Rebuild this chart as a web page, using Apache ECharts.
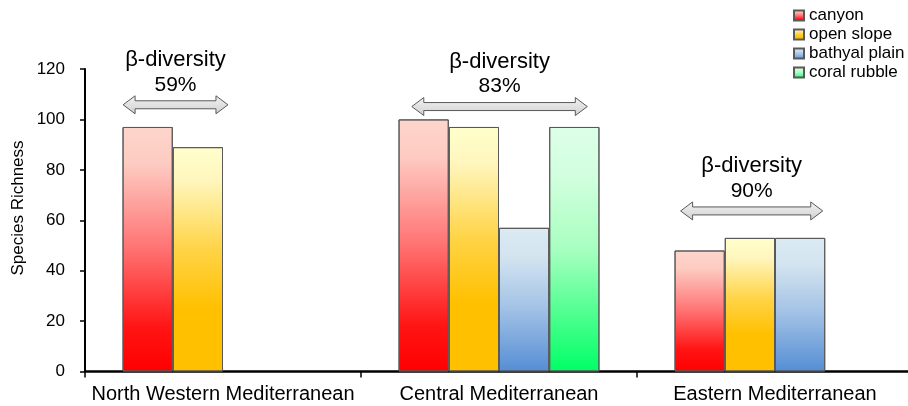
<!DOCTYPE html>
<html>
<head>
<meta charset="utf-8">
<script src="https://cdn.jsdelivr.net/npm/echarts@6/dist/echarts.min.js"></script>
<style>html,body{margin:0;padding:0;background:#fff}#c{width:908px;height:406px}</style>
</head>
<body>
<div id="c"></div>
<script>
const categories = ['North Western Mediterranean', 'Central Mediterranean', 'Eastern Mediterranean'];
const seriesNames = ['canyon', 'open slope', 'bathyal plain', 'coral rubble'];
const canyon = [97, 100, 48];
const openSlope = [89, 97, 53];
const bathyalPlain = [null, 57, 53];
const coralRubble = [null, 97, null];
const yTicks = [0, 20, 40, 60, 80, 100, 120];
const betaValues = ['59%', '83%', '90%'];
const betaLevel = [105.8, 105.1, 63.7];
const betaStart = [-0.362, -0.316, -0.342];
const betaEnd = [0.018, 0.32, 0.173];

const FONT = 'Liberation Sans, Arial, Helvetica, sans-serif';

function grad(stops) {
  return new echarts.graphic.LinearGradient(0, 0, 0, 1,
    stops.map(s => ({ offset: s[0], color: s[1] })));
}
const palettes = [
  grad([[0, '#fdd5cc'], [0.15, '#fdcbc2'], [0.5, '#ff7272'], [0.82, '#ff1414'], [1, '#ff0000']]),
  grad([[0, '#ffffcc'], [0.15, '#fff6bd'], [0.45, '#ffd448'], [0.72, '#ffc000'], [1, '#ffc000']]),
  grad([[0, '#dbeaf3'], [0.2, '#d3e4f0'], [0.55, '#a4c3e6'], [1, '#558ed5']]),
  grad([[0, '#ddffe8'], [0.2, '#d2ffdf'], [0.5, '#a8ffc0'], [1, '#00ff66']])
];
const dataSets = [canyon, openSlope, bathyalPlain, coralRubble];

const chart = echarts.init(document.getElementById('c'), null, { renderer: 'canvas', width: 908, height: 406 });

const option = {
  animation: false,
  backgroundColor: '#fff',
  textStyle: { fontFamily: FONT },
  legend: {
    orient: 'vertical',
    left: 793,
    top: 6,
    padding: 0,
    itemWidth: 10,
    itemHeight: 10,
    itemGap: 0,
    icon: 'rect',
    textStyle: { fontSize: 17, color: '#000', fontFamily: FONT, lineHeight: 19 },
    data: seriesNames
  },
  grid: { left: 85, right: -5, top: 69, bottom: 34.5, containLabel: false, outerBoundsMode: 'none' },
  xAxis: {
    type: 'category',
    data: categories,
    axisLine: { lineStyle: { color: '#000', width: 2.5 } },
    axisTick: { show: true, length: 6, lineStyle: { color: '#000', width: 1.5 } },
    axisLabel: { fontSize: 20, color: '#000', margin: 13, fontFamily: FONT, interval: 0 },
    splitLine: { show: false }
  },
  yAxis: {
    type: 'value',
    min: yTicks[0],
    max: yTicks[yTicks.length - 1],
    interval: 20,
    axisLine: { show: true, lineStyle: { color: '#000', width: 2 } },
    axisTick: { show: true, length: 5, lineStyle: { color: '#000', width: 1.5 } },
    axisLabel: { fontSize: 17, color: '#000', margin: 20, fontFamily: FONT },
    splitLine: { show: false }
  },
  series: seriesNames.map((name, i) => ({
    name: name,
    type: 'bar',
    data: dataSets[i],
    barGap: '0%',
    barCategoryGap: '27.2%',
    itemStyle: { color: palettes[i], borderColor: '#595959', borderWidth: 1 }
  }))
};
chart.setOption(option);

function buildGraphics() {
  const c0 = chart.convertToPixel({ xAxisIndex: 0 }, 0);
  const c1 = chart.convertToPixel({ xAxisIndex: 0 }, 1);
  const catW = c1 - c0;
  const els = [];
  categories.forEach((cat, i) => {
    const cx = chart.convertToPixel({ xAxisIndex: 0 }, i);
    const x1 = cx + betaStart[i] * catW;
    const x2 = cx + betaEnd[i] * catW;
    const yc = chart.convertToPixel({ yAxisIndex: 0 }, betaLevel[i]);
    const hl = 12, hh = 9, sh = 4;
    els.push({
      type: 'polygon',
      shape: { points: [
        [x1, yc], [x1 + hl, yc - hh], [x1 + hl, yc - sh], [x2 - hl, yc - sh], [x2 - hl, yc - hh],
        [x2, yc], [x2 - hl, yc + hh], [x2 - hl, yc + sh], [x1 + hl, yc + sh], [x1 + hl, yc + hh]
      ] },
      style: { fill: new echarts.graphic.LinearGradient(0, 0, 0, 1, [
        { offset: 0, color: '#f2f2f2' }, { offset: 1, color: '#d0d0d0' }]),
        stroke: '#595959', lineWidth: 1 },
      z: 10
    });
    const tx = (x1 + x2) / 2;
    els.push({
      type: 'text',
      x: tx, y: yc - 45,
      style: { text: 'β-diversity', font: '22px ' + FONT, fill: '#000', align: 'center', verticalAlign: 'middle' },
      z: 10
    });
    els.push({
      type: 'text',
      x: tx, y: yc - 20,
      style: { text: betaValues[i], font: '21px ' + FONT, fill: '#000', align: 'center', verticalAlign: 'middle' },
      z: 10
    });
  });
  els.push({
    type: 'text',
    x: 18, y: 208,
    rotation: Math.PI / 2,
    style: { text: 'Species Richness', font: '17px ' + FONT, fill: '#000', align: 'center', verticalAlign: 'middle' },
    z: 10
  });
  chart.setOption({ graphic: els });
}
buildGraphics();
</script>
</body>
</html>
